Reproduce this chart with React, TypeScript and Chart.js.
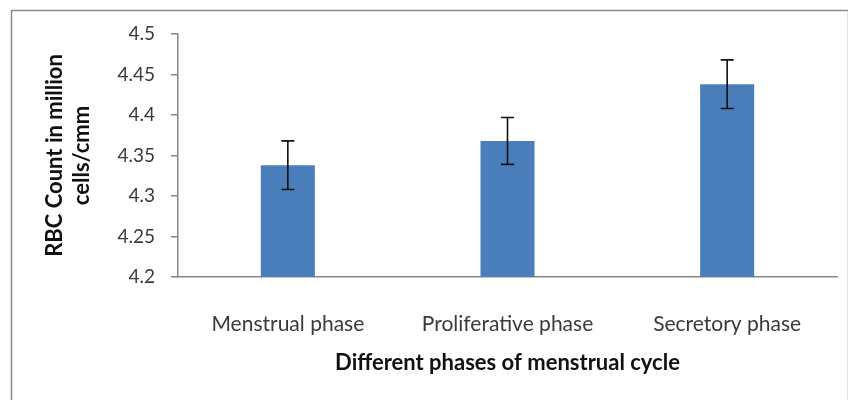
import React, { useEffect, useRef } from "react";
import { Chart, registerables } from "chart.js";

Chart.register(...registerables);

const categories = ["Menstrual phase", "Proliferative phase", "Secretory phase"];
const means = [4.338, 4.368, 4.438];
const errors = [0.03, 0.029, 0.03];
const yMin = 4.2;
const yMax = 4.5;
const yStep = 0.05;
const yTitle = ["RBC Count in million", "cells/cmm"];
const xTitle = "Different phases of menstrual cycle";

const framePlugin = {
  id: "frame",
  beforeDraw(chart: any) {
    const ctx = chart.ctx;
    ctx.save();
    ctx.fillStyle = "#ffffff";
    ctx.fillRect(0, 0, chart.width, chart.height);
    ctx.strokeStyle = "#8c8c8c";
    ctx.lineWidth = 1.5;
    ctx.strokeRect(11.5, 10.5, chart.width - 11, chart.height + 20);
    ctx.restore();
  },
};

const errorBarPlugin = {
  id: "errorBars",
  afterDatasetsDraw(chart: any) {
    const ctx = chart.ctx;
    const yScale = chart.scales.y;
    const meta = chart.getDatasetMeta(0);
    ctx.save();
    ctx.strokeStyle = "#111111";
    ctx.lineWidth = 1.6;
    meta.data.forEach((bar: any, i: number) => {
      const x = bar.x;
      const yTop = yScale.getPixelForValue(means[i] + errors[i]);
      const yBot = yScale.getPixelForValue(means[i] - errors[i]);
      const cap = 6.5;
      ctx.beginPath();
      ctx.moveTo(x, yTop);
      ctx.lineTo(x, yBot);
      ctx.moveTo(x - cap, yTop);
      ctx.lineTo(x + cap, yTop);
      ctx.moveTo(x - cap, yBot);
      ctx.lineTo(x + cap, yBot);
      ctx.stroke();
    });
    ctx.restore();
  },
};

export default function App() {
  const ref = useRef<HTMLCanvasElement | null>(null);

  useEffect(() => {
    if (!ref.current) return;
    const chart = new Chart(ref.current, {
      type: "bar",
      data: {
        labels: categories,
        datasets: [
          {
            data: means,
            backgroundColor: "#4a7ebb",
            borderWidth: 0,
            barPercentage: 0.246,
            categoryPercentage: 1,
          },
        ],
      },
      options: {
        animation: false,
        responsive: false,
        maintainAspectRatio: false,
        layout: { padding: { top: 34, right: 11, left: 0, bottom: 0 } },
        plugins: {
          legend: { display: false },
          tooltip: { enabled: false },
        },
        scales: {
          x: {
            grid: { display: false },
            border: { display: true, color: "#868686", width: 1.5 },
            ticks: {
              padding: 27,
              color: "#3a3a3a",
              font: { family: "Lato", size: 21 },
              maxRotation: 0,
              autoSkip: false,
            },
            title: {
              display: true,
              text: xTitle,
              color: "#111111",
              font: { family: "Lato", size: 22, weight: "bold" },
              padding: { top: 0, bottom: 24 },
            },
            afterFit(scale: any) {
              scale.height = 123;
            },
          },
          y: {
            min: yMin,
            max: yMax,
            grid: {
              display: true,
              drawOnChartArea: false,
              drawTicks: true,
              tickLength: 7,
              color: "#868686",
              lineWidth: 1.5,
            },
            border: { display: true, color: "#868686", width: 1.5 },
            ticks: {
              stepSize: yStep,
              padding: 16,
              color: "#3a3a3a",
              font: { family: "Lato", size: 19 },
              callback: (v: any) => String(Number(Number(v).toFixed(2))),
            },
            title: {
              display: true,
              text: yTitle,
              color: "#111111",
              font: { family: "Lato", size: 22, weight: "bold", lineHeight: 1.25 },
              padding: { top: 41, bottom: 0 },
            },
            afterFit(scale: any) {
              scale.width = 178;
            },
          },
        },
      },
      plugins: [framePlugin, errorBarPlugin],
    });
    return () => chart.destroy();
  }, []);

  return (
    <div style={{ position: "absolute", left: 0, top: 0, width: 848, height: 400 }}>
      <canvas ref={ref} width={848} height={400} />
    </div>
  );
}
